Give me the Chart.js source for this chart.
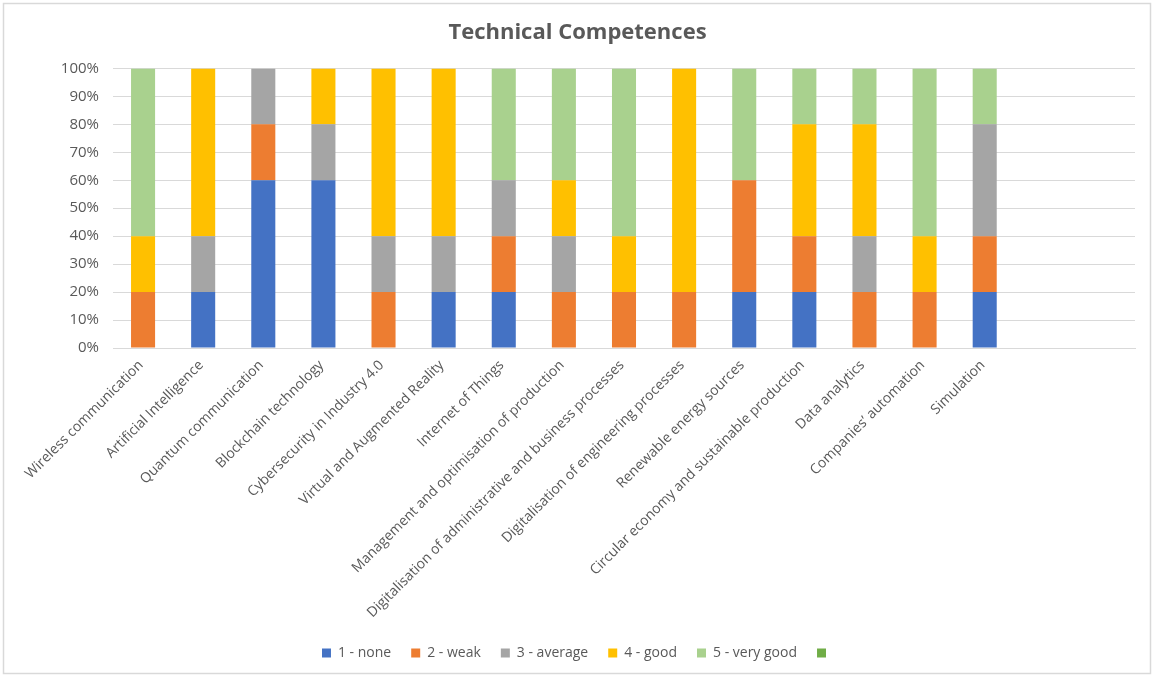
<!DOCTYPE html>
<html>
<head>
<meta charset="utf-8">
<script src="https://cdn.jsdelivr.net/npm/chart.js@4"></script>
<style>
  html, body { margin: 0; padding: 0; background: #fff; }
  #wrap { width: 1154px; height: 677px; }
</style>
</head>
<body>
<div id="wrap"><canvas id="myChart" width="1154" height="677"></canvas></div>
<script>
// competences (two empty slots at the end of the axis)
const categories = [
  'Wireless communication',
  'Artificial Intelligence',
  'Quantum communication',
  'Blockchain technology',
  'Cybersecurity in Industry 4.0',
  'Virtual and Augmented Reality',
  'Internet of Things',
  'Management and optimisation of production',
  'Digitalisation of administrative and business processes',
  'Digitalisation of engineering processes',
  'Renewable energy sources',
  'Circular economy and sustainable production',
  'Data analytics',
  'Companies\u2019 automation',
  'Simulation',
  '',
  ''
];

// share of answers per level, in %
const none     = [0, 20, 60, 60, 0, 20, 20, 0, 0, 0, 20, 20, 0, 0, 20];
const weak     = [20, 0, 20, 0, 20, 0, 20, 20, 20, 20, 40, 20, 20, 20, 20];
const average  = [0, 20, 20, 20, 20, 20, 20, 20, 0, 0, 0, 0, 20, 0, 40];
const good     = [20, 60, 0, 20, 60, 60, 0, 20, 20, 80, 0, 40, 40, 20, 0];
const veryGood = [60, 0, 0, 0, 0, 0, 40, 40, 60, 0, 40, 20, 20, 60, 20];
const blank    = [];

const yTicks = [0, 10, 20, 30, 40, 50, 60, 70, 80, 90, 100];

const textColor = '#595959';
const fontFamily = '"Open Sans", "Noto Sans", sans-serif';

// outer frame of the chart
const framePlugin = {
  id: 'frame',
  beforeDraw(chart) {
    const ctx = chart.ctx;
    ctx.save();
    ctx.fillStyle = '#fff';
    ctx.fillRect(0, 0, chart.width, chart.height);
    ctx.strokeStyle = '#d9d9d9';
    ctx.lineWidth = 1.5;
    ctx.strokeRect(3.5, 3.5, chart.width - 7, chart.height - 7);
    ctx.restore();
  }
};

const bar = (label, data, color) => ({
  label: label,
  data: data,
  backgroundColor: color,
  borderWidth: 0,
  categoryPercentage: 1,
  barPercentage: 0.4
});

const data = {
  labels: categories,
  datasets: [
    bar('1 - none', none, '#4472c4'),
    bar('2 - weak', weak, '#ed7d31'),
    bar('3 - average', average, '#a5a5a5'),
    bar('4 - good', good, '#ffc000'),
    bar('5 - very good', veryGood, '#a9d18e'),
    bar('', blank, '#70ad47')
  ]
};

const config = {
  type: 'bar',
  data: data,
  plugins: [framePlugin],
  options: {
    responsive: false,
    animation: false,
    layout: { padding: { left: 20, right: 19, top: 0, bottom: 7 } },
    plugins: {
      title: {
        display: true,
        text: 'Technical Competences',
        color: textColor,
        font: { family: fontFamily, size: 22, weight: 'bold' },
        padding: { top: 20, bottom: 22 }
      },
      legend: {
        position: 'bottom',
        labels: {
          color: textColor,
          font: { family: fontFamily, size: 14 },
          boxWidth: 9,
          boxHeight: 9,
          padding: 20
        }
      },
      tooltip: { enabled: false }
    },
    scales: {
      x: {
        stacked: true,
        offset: true,
        grid: { display: false, drawTicks: false },
        border: { color: '#d9d9d9', width: 1 },
        ticks: {
          color: textColor,
          font: { family: fontFamily, size: 14 },
          minRotation: 45,
          maxRotation: 45,
          autoSkip: false,
          padding: 9,
          labelOffset: -2
        },
        afterFit(scale) { scale.height = 278; }
      },
      y: {
        stacked: true,
        min: 0,
        max: 100,
        afterBuildTicks(scale) { scale.ticks = yTicks.map(v => ({ value: v })); },
        grid: { color: '#d9d9d9', drawTicks: false },
        border: { display: false },
        ticks: {
          color: textColor,
          font: { family: fontFamily, size: 15 },
          padding: 14,
          callback: v => v + '%'
        },
        afterFit(scale) { scale.width = 93; }
      }
    }
  }
};

const myChart = new Chart(document.getElementById('myChart'), config);
</script>
</body>
</html>
